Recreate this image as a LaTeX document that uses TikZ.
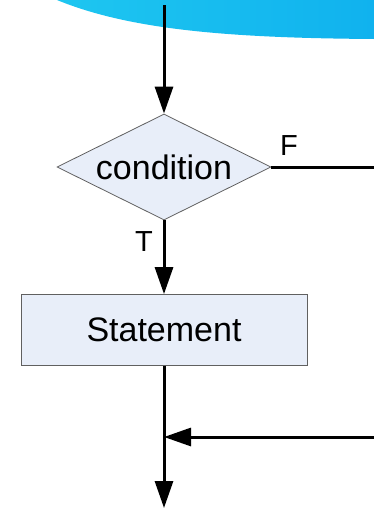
\documentclass[tikz,border=0pt]{standalone}
\usepackage{fontspec}
\setmainfont{Liberation Sans}
\usepackage{tikz}
\usetikzlibrary{shapes.geometric, arrows.meta, positioning}
\definecolor{bandleft}{RGB}{30, 198, 240}
\definecolor{bandright}{RGB}{16, 178, 238}
\definecolor{boxcolor}{RGB}{232, 238, 249}
\definecolor{edgecolor}{RGB}{96, 96, 96}

\begin{document}
\begin{tikzpicture}[x=1pt, y=-1pt,
        flow/.style={line width=3pt, -{Triangle[length=27pt, width=18pt]}},
        plainline/.style={line width=3pt},
        decision/.style={diamond, draw=edgecolor, fill=boxcolor, line width=0.8pt, minimum width=214pt, minimum height=106pt, inner sep=0pt, aspect=2, font=\fontsize{34}{40}\selectfont},
        process/.style={draw=edgecolor, fill=boxcolor, line width=0.8pt, minimum width=286pt, minimum height=71pt, font=\fontsize{34}{40}\selectfont},
        branchlabel/.style={font=\fontsize{29}{34}\selectfont}]
        \useasboundingbox (0,0) rectangle (374,509);
        % Header band
        \shade[left color=bandleft, right color=bandright] (57,0) .. controls (130,30) and (230,38) .. (374,39) -- (374,0) -- cycle;
        
        % Flow nodes
        \node[decision] (cond) at (164,167) {condition};
        \node[process] (stmt) at (164,330) {Statement};
        
        % Free ends
        \coordinate (entry) at (164,5);
        \coordinate (falseend) at (374,167);
        \coordinate (backin) at (374,437);
        \coordinate (join) at (164,437);
        \coordinate (exit) at (164,508);
        
        % Labels
        \node[branchlabel] (flab) at (289,146) {F};
        \node[branchlabel] (tlab) at (144,242) {T};
        
        % Connectors
        \draw[flow] (entry) -- (cond.north);
        \draw[plainline] (cond.east) -- (falseend);
        \draw[flow] (cond.south) -- (stmt.north);
        \draw[flow] (stmt.south) -- (exit);
        \draw[flow] (backin) -- (join);
    \end{tikzpicture}
\end{document}
